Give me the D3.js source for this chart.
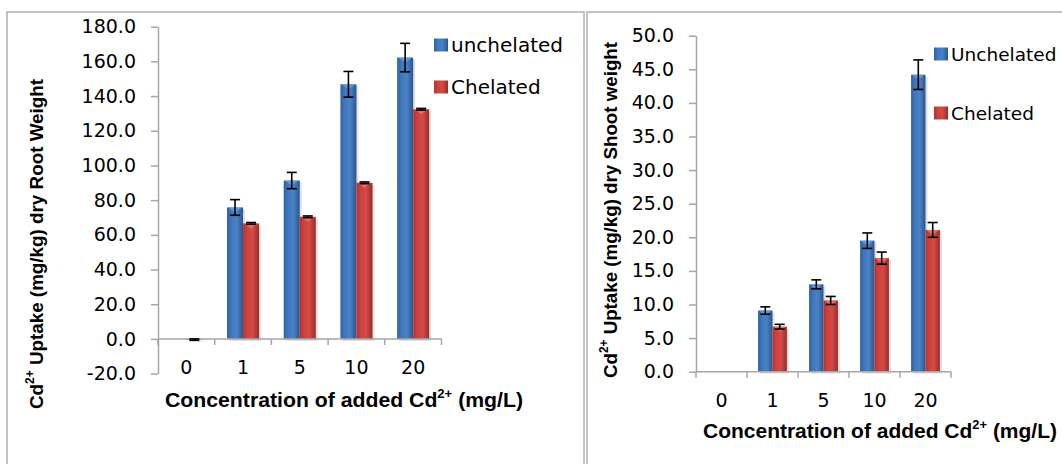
<!DOCTYPE html>
<html>
<head>
<meta charset="utf-8">
<script src="https://cdn.jsdelivr.net/npm/d3@7"></script>
<style>
  body { margin: 0; background: #fff; }
  svg { display: block; }
</style>
</head>
<body>
<svg id="out" width="1062" height="464"></svg>
<script>
// values
var categories = ["0", "1", "5", "10", "20"];
var rootTicks = [-20, 0, 20, 40, 60, 80, 100, 120, 140, 160, 180];
var shootTicks = [0, 5, 10, 15, 20, 25, 30, 35, 40, 45, 50];

var rootUnchelated = [0.0, 75.8, 91.3, 146.8, 162.2];
var rootUnchelatedErr = [0, 4.5, 4.7, 7.4, 8.2];
var rootChelated = [-0.4, 66.6, 70.4, 90.0, 132.4];
var rootChelatedErr = [0.4, 0.5, 0.5, 0.5, 0.5];

var shootUnchelated = [0.0, 9.1, 13.0, 19.5, 44.2];
var shootUnchelatedErr = [0, 0.55, 0.67, 1.15, 2.2];
var shootChelated = [0.0, 6.7, 10.6, 16.9, 21.1];
var shootChelatedErr = [0, 0.35, 0.6, 0.9, 1.1];

var svg = d3.select("#out");
var axisGrey = "#a6a6a6";
var tickFont = "'DejaVu Sans', sans-serif";
var titleFont = "'Liberation Sans', Arial, sans-serif";
var fmt = d3.format(".1f");

// gradients for the bars (cylinder look)
var defs = svg.append("defs");
function grad(id, stops){
	var g = defs.append("linearGradient").attr("id", id)
		.attr("x1", "0%").attr("x2", "100%").attr("y1", "0%").attr("y2", "0%");
	stops.forEach(function(s){
		g.append("stop").attr("offset", s[0]).attr("stop-color", s[1]);
	});
}
grad("gBlue", [["0%", "#2f5f9e"], ["25%", "#3f77bd"], ["60%", "#4a82c6"], ["100%", "#2a568f"]]);
grad("gRed", [["0%", "#b03431"], ["25%", "#cf403c"], ["60%", "#d44a45"], ["100%", "#9a2b29"]]);

// panel frames
svg.append("rect").attr("x", 7).attr("y", 12).attr("width", 577).attr("height", 470)
	.attr("fill", "none").attr("stroke", "#b0b0b0").attr("stroke-width", 1.5);
svg.append("rect").attr("x", 587).attr("y", 12).attr("width", 500).attr("height", 470)
	.attr("fill", "none").attr("stroke", "#b0b0b0").attr("stroke-width", 1.5);

function drawChart(o){
	var y = d3.scaleLinear().domain([o.ticks[0], o.ticks[o.ticks.length - 1]]).range([o.yBottom, o.yTop]);
	var x = d3.scaleBand().domain(categories).range([o.xLeft, o.xRight]);
	var groupW = x.bandwidth() * 0.565;
	var x1 = d3.scaleBand().domain([0, 1]).range([0, groupW]);
	var off = (x.bandwidth() - groupW) / 2;

	var series = [
		{vals: o.unch, err: o.unchErr, fill: "url(#gBlue)", top: "#6b9bd6"},
		{vals: o.chel, err: o.chelErr, fill: "url(#gRed)", top: "#e07571"}
	];

	var g = svg.append("g");

	// y axis
	var ya = g.append("g").attr("transform", "translate(" + o.xLeft + ",0)")
		.call(d3.axisLeft(y).tickValues(o.ticks)
			.tickFormat(function(d){ return fmt(d).replace("\u2212", "-"); })
			.tickSize(7).tickSizeOuter(0).tickPadding(15));
	ya.selectAll("path,line").attr("stroke", axisGrey).attr("stroke-width", 1.5);
	ya.selectAll("text").attr("font-family", tickFont).attr("font-size", 19).attr("fill", "#000");

	// bars
	series.forEach(function(s, si){
		var bars = g.append("g");
		categories.forEach(function(c, i){
			var v = s.vals[i];
			var bx = x(c) + off + x1(si);
			var top = Math.min(y(v), y(0));
			var h = Math.abs(y(v) - y(0));
			if(h <= 0) return;
			bars.append("rect").attr("x", bx + 2).attr("y", top + 2).attr("width", x1.bandwidth()).attr("height", h)
				.attr("fill", "#000").attr("opacity", 0.12);
			bars.append("rect").attr("x", bx).attr("y", top).attr("width", x1.bandwidth()).attr("height", h)
				.attr("fill", s.fill);
			if(h > 8){
				bars.append("path")
					.attr("d", "M" + (bx + 1) + "," + top + "L" + (bx + x1.bandwidth() - 1) + "," + top + "L" + (bx + x1.bandwidth() / 2) + "," + (top + 5) + "Z")
					.attr("fill", s.top).attr("opacity", 0.9);
			}
		});
	});

	// x axis line at zero plus category ticks
	g.append("line").attr("x1", o.xLeft).attr("x2", o.xRight).attr("y1", y(0)).attr("y2", y(0))
		.attr("stroke", axisGrey).attr("stroke-width", 1.5);
	var bounds = categories.map(function(c){ return x(c); }).concat([o.xRight]);
	g.selectAll(".xt").data(bounds).enter().append("line")
		.attr("x1", function(d){ return d; }).attr("x2", function(d){ return d; })
		.attr("y1", y(0)).attr("y2", y(0) + 6)
		.attr("stroke", axisGrey).attr("stroke-width", 1.5);

	// error bars
	series.forEach(function(s, si){
		categories.forEach(function(c, i){
			var e = s.err[i];
			if(!e) return;
			var cx = x(c) + off + x1(si) + x1.bandwidth() / 2;
			var v = s.vals[i];
			var eg = g.append("g").attr("stroke", "#000").attr("stroke-width", 1.6);
			eg.append("line").attr("x1", cx).attr("x2", cx).attr("y1", y(v + e)).attr("y2", y(v - e));
			eg.append("line").attr("x1", cx - 5).attr("x2", cx + 5).attr("y1", y(v + e)).attr("y2", y(v + e));
			eg.append("line").attr("x1", cx - 5).attr("x2", cx + 5).attr("y1", y(v - e)).attr("y2", y(v - e));
		});
	});

	// category labels
	var xa = g.append("g").attr("transform", "translate(0," + (o.labelY - 6.8) + ")")
		.call(d3.axisBottom(x).tickSize(0).tickPadding(0));
	xa.select(".domain").remove();
	xa.selectAll("text").attr("font-family", tickFont).attr("font-size", 19).attr("fill", "#000");

	// axis titles
	var xt = g.append("text").attr("x", o.xTitle[0]).attr("y", o.xTitle[1])
		.attr("text-anchor", "middle").attr("dominant-baseline", "central")
		.attr("font-family", titleFont).attr("font-weight", "bold").attr("font-size", 19.5)
		.attr("textLength", o.xTitle[2]).attr("lengthAdjust", "spacingAndGlyphs");
	xt.append("tspan").text("Concentration of added Cd");
	xt.append("tspan").attr("font-size", 12).attr("dy", -6).text("2+");
	xt.append("tspan").attr("dy", 6).text(" (mg/L)");

	var yt = g.append("text").attr("transform", "translate(" + o.yTitle[0] + "," + o.yTitle[1] + ") rotate(-90)")
		.attr("text-anchor", "middle").attr("dominant-baseline", "central")
		.attr("font-family", titleFont).attr("font-weight", "bold").attr("font-size", 19)
		.attr("textLength", o.yTitle[2]).attr("lengthAdjust", "spacingAndGlyphs");
	yt.append("tspan").text("Cd");
	yt.append("tspan").attr("font-size", 12).attr("dy", -6).text("2+");
	yt.append("tspan").attr("dy", 6).text(" Uptake (mg/kg) dry " + o.part);

	// legend
	o.legend.forEach(function(n, i){
		var ly = o.legendY[i];
		svg.append("rect").attr("x", o.legendX).attr("y", ly - 6.5).attr("width", 14).attr("height", 13)
			.attr("fill", i == 0 ? "url(#gBlue)" : "url(#gRed)");
		svg.append("text").attr("x", o.legendX + 17).attr("y", ly).attr("dominant-baseline", "central")
			.attr("font-family", tickFont).attr("font-size", o.legendSize).attr("fill", "#000").text(n);
	});
}

drawChart({
	ticks: rootTicks, yBottom: 373.6, yTop: 26.7, xLeft: 158, xRight: 441.5,
	unch: rootUnchelated, unchErr: rootUnchelatedErr, chel: rootChelated, chelErr: rootChelatedErr,
	labelY: 367, xTitle: [344, 400, 358], yTitle: [36, 244, 330], part: "Root Weight",
	legend: ["unchelated", "Chelated"], legendX: 434, legendY: [45, 87], legendSize: 20
});

drawChart({
	ticks: shootTicks, yBottom: 371.7, yTop: 35.7, xLeft: 696, xRight: 951,
	unch: shootUnchelated, unchErr: shootUnchelatedErr, chel: shootChelated, chelErr: shootChelatedErr,
	labelY: 400, xTitle: [880, 431, 354], yTitle: [610, 210, 336], part: "Shoot weight",
	legend: ["Unchelated", "Chelated"], legendX: 934, legendY: [54, 113], legendSize: 18.5
});
</script>
</body>
</html>
